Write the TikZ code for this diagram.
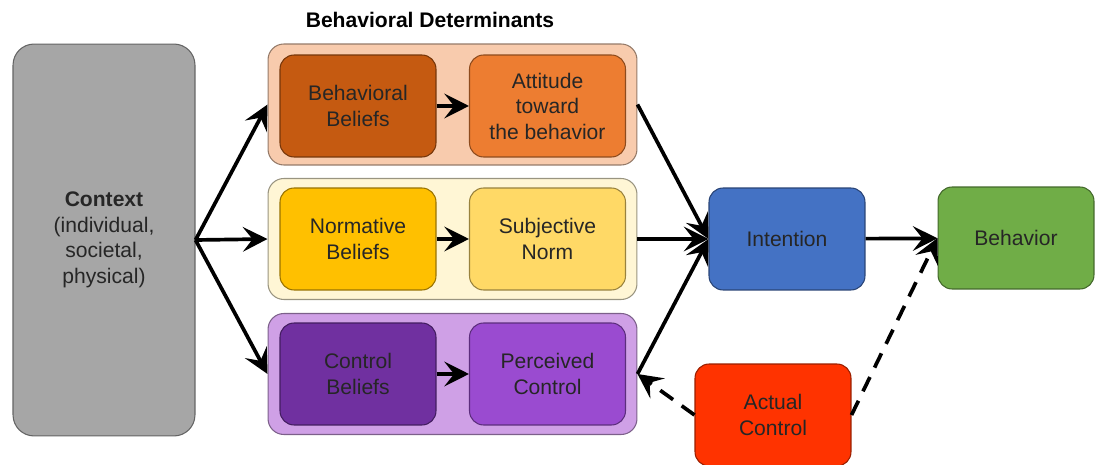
\documentclass[tikz,border=0pt]{standalone}
\usepackage{fontspec}
\setmainfont{Liberation Sans}
\usetikzlibrary{arrows.meta}

\definecolor{ctxgray}{HTML}{A6A6A6}
\definecolor{orgout}{HTML}{F8CBAD}
\definecolor{orgdark}{HTML}{C55A11}
\definecolor{orgmid}{HTML}{ED7D31}
\definecolor{ylwout}{HTML}{FFF6D5}
\definecolor{ylwdark}{HTML}{FFC000}
\definecolor{ylwmid}{HTML}{FFD966}
\definecolor{purout}{HTML}{CFA0E6}
\definecolor{purdark}{HTML}{7030A0}
\definecolor{purmid}{HTML}{9A4BD0}
\definecolor{intblue}{HTML}{4472C4}
\definecolor{behgreen}{HTML}{70AD47}
\definecolor{actred}{HTML}{FF3300}

\begin{document}
\begin{tikzpicture}[x=0.02cm,y=-0.02cm,font=\fontsize{12}{14.5}\selectfont,
  line width=0.6pt,
  box/.style={rectangle,rounded corners=8pt,draw=#1!60!black,align=center,
    text=black!85,minimum width=3.12cm,minimum height=2.04cm,inner sep=2pt},
  group/.style={rectangle,rounded corners=9pt,draw=#1!60!black,fill=#1,
    minimum width=7.38cm,minimum height=2.42cm},
  link/.style={-{Stealth[length=14pt,width=14pt,inset=5.5pt]},line width=2.1pt},
  dashlink/.style={link,dash pattern=on 9pt off 6pt}]
\useasboundingbox (0,0) rectangle (1095,465);
% context column
\node[box=ctxgray,fill=ctxgray,minimum width=3.64cm,minimum height=7.84cm,
  rounded corners=12pt] (ctx) at (104,240)
  {\textbf{Context}\\(individual,\\societal,\\physical)};
% behavioral determinants: three groups of two
\node[font=\fontsize{12}{14.5}\selectfont\bfseries] (title) at (430,20)
  {Behavioral Determinants};
\node[group=orgout] (g1) at (452.5,104.5) {};
\node[group=ylwout] (g2) at (452.5,239) {};
\node[group=purout] (g3) at (452.5,374) {};
\node[box=orgdark,fill=orgdark] (bb) at (358,106) {Behavioral\\Beliefs};
\node[box=orgmid,fill=orgmid] (att) at (547.5,106) {Attitude\\toward\\the behavior};
\node[box=ylwdark,fill=ylwdark] (nb) at (358,239) {Normative\\Beliefs};
\node[box=ylwmid,fill=ylwmid] (sn) at (547.5,239) {Subjective\\Norm};
\node[box=purdark,fill=purdark] (cb) at (358,374) {Control\\Beliefs};
\node[box=purmid,fill=purmid] (pc) at (547.5,374) {Perceived\\Control};
% outcome side
\node[box=intblue,fill=intblue] (int) at (787,239) {Intention};
\node[box=behgreen,fill=behgreen] (beh) at (1016,238) {Behavior};
\node[box=actred,fill=actred] (act) at (773,415) {Actual\\Control};
% connectors
\draw[link] (ctx.east) -- (g1.west);
\draw[link] (ctx.east) -- (g2.west);
\draw[link] (ctx.east) -- (g3.west);
\draw[link] (bb) -- (att);
\draw[link] (nb) -- (sn);
\draw[link] (cb) -- (pc);
\draw[link] (g1.east) -- (int.west);
\draw[link] (g2.east) -- (int.west);
\draw[link] (g3.east) -- (int.west);
\draw[link] (int) -- (beh);
\draw[dashlink] (act.west) -- (g3.east);
\draw[dashlink] (act.east) -- (beh.west);
\end{tikzpicture}
\end{document}
